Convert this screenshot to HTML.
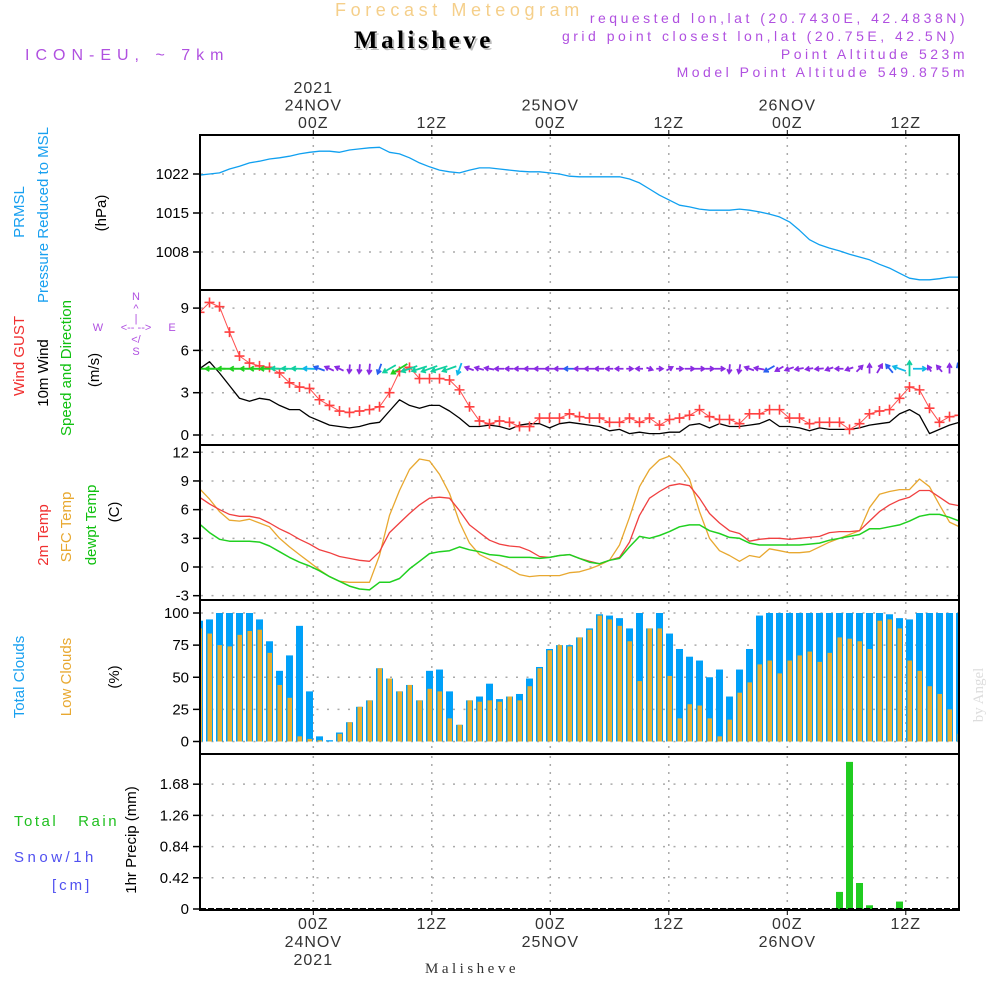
<!DOCTYPE html>
<html><head><meta charset="utf-8"><style>
html,body{margin:0;padding:0;background:#fff;}
svg{display:block;font-family:"Liberation Sans",sans-serif;}
</style></head><body>
<svg id="chart" width="1000" height="1000" viewBox="0 0 1000 1000" xmlns="http://www.w3.org/2000/svg">
<defs>
<clipPath id="plotclip"><rect x="201" y="136" width="757" height="773"/></clipPath>
</defs>
<text x="335" y="16" font-size="18" fill="#f5cf8a" letter-spacing="4.6">Forecast Meteogram</text>
<text x="354" y="48" font-size="25" font-weight="bold" font-family="Liberation Serif,serif" fill="#bbb" letter-spacing="3.5" transform="translate(2,2)">Malisheve</text>
<text x="354" y="48" font-size="25" font-weight="bold" font-family="Liberation Serif,serif" fill="#000" letter-spacing="3.5">Malisheve</text>
<g font-size="14" fill="#b050e0" text-anchor="end" letter-spacing="3.5">
<text x="968" y="23">requested lon,lat (20.7430E, 42.4838N)</text>
<text x="958" y="41">grid point closest lon,lat (20.75E, 42.5N)</text>
<text x="968" y="59">Point Altitude 523m</text>
<text x="968" y="77">Model Point Altitude 549.875m</text>
</g>
<text x="25" y="60" font-size="16" fill="#b050e0" letter-spacing="6">ICON-EU, ~ 7km</text>

<g font-size="15" text-anchor="middle">
<text transform="translate(24,212) rotate(-90)" fill="#18a0f0">PRMSL</text>
<text transform="translate(48,215) rotate(-90)" fill="#18a0f0">Pressure Reduced to MSL</text>
<text transform="translate(106,213) rotate(-90)" fill="#000">(hPa)</text>
<text transform="translate(24,356) rotate(-90)" fill="#f03030">Wind GUST</text>
<text transform="translate(48,373) rotate(-90)" fill="#000">10m Wind</text>
<text transform="translate(71,368) rotate(-90)" fill="#10c010">Speed and Direction</text>
<text transform="translate(99,370) rotate(-90)" fill="#000">(m/s)</text>
<text transform="translate(48,535) rotate(-90)" fill="#f03030">2m Temp</text>
<text transform="translate(71,527) rotate(-90)" fill="#e8a830">SFC Temp</text>
<text transform="translate(96,525) rotate(-90)" fill="#10c010">dewpt Temp</text>
<text transform="translate(119,512) rotate(-90)" fill="#000">(C)</text>
<text transform="translate(24,677) rotate(-90)" fill="#18a0f0">Total Clouds</text>
<text transform="translate(71,677) rotate(-90)" fill="#e8a830">Low Clouds</text>
<text transform="translate(119,677) rotate(-90)" fill="#000">(%)</text>
<text transform="translate(136,840) rotate(-90)" fill="#000">1hr Precip (mm)</text>
</g>
<g font-size="15">
<text x="14" y="826" fill="#20c020" letter-spacing="2.5">Total&#160;&#160;&#160;Rain</text>
<text x="14" y="862" fill="#5050f0" letter-spacing="3.5">Snow/1h</text>
<text x="52" y="890" fill="#5050f0" letter-spacing="3">[cm]</text>
</g>
<g font-size="11" fill="#b050e0" text-anchor="middle">
<text x="136" y="300">N</text><text x="136" y="312">^</text><text x="136" y="322">|</text>
<text x="98" y="331">W</text><text x="136" y="331">&lt;-- --&gt;</text><text x="172" y="331">E</text>
<text x="136" y="343">&lt;/</text><text x="136" y="355">S</text>
</g>
<text transform="translate(983,695) rotate(-90)" font-size="15" font-family="Liberation Serif,serif" fill="#ddd" text-anchor="middle">by Angel</text>
<text x="472" y="973" font-size="15" font-family="Liberation Serif,serif" fill="#333" text-anchor="middle" letter-spacing="3.5">Malisheve</text>

<g id="grid"></g>
<g id="marks" clip-path="url(#plotclip)"></g>
<g id="frame"></g>
<g id="axes"></g>
</svg>
<script>
const hoursTicks=[0,12,24,36,48,60];
const timeTop=[["2021","24NOV","00Z"],["","","12Z"],["","25NOV","00Z"],["","","12Z"],["","26NOV","00Z"],["","","12Z"]];
const timeBottom=[["00Z","24NOV","2021"],["12Z","",""],["00Z","25NOV",""],["12Z","",""],["00Z","26NOV",""],["12Z","",""]];
const pressure=[1021.8,1022.0,1022.2,1022.9,1023.4,1024.0,1024.3,1024.7,1024.9,1025.2,1025.6,1025.9,1026.1,1026.1,1025.9,1026.3,1026.5,1026.7,1026.8,1025.9,1025.6,1024.9,1024.0,1023.3,1022.7,1022.4,1022.2,1022.7,1023.1,1023.1,1022.9,1022.7,1022.5,1022.4,1022.4,1022.2,1022.0,1021.6,1021.5,1021.5,1021.5,1021.5,1021.5,1021.1,1020.4,1019.3,1018.2,1017.3,1016.4,1016.1,1015.7,1015.5,1015.5,1015.5,1015.7,1015.5,1015.2,1014.8,1014.3,1013.4,1011.9,1010.2,1009.3,1008.7,1008.2,1007.6,1007.1,1006.6,1005.8,1005.1,1004.2,1003.3,1003.0,1003.0,1003.2,1003.5,1003.5];
const gust=[8.7,9.4,9.1,7.3,5.6,5.1,4.9,4.8,4.4,3.7,3.4,3.3,2.5,2.1,1.7,1.6,1.7,1.8,2.0,3.0,4.5,4.8,4.0,4.0,4.0,3.9,3.2,2.0,1.0,0.8,1.0,0.9,0.6,0.6,1.2,1.2,1.2,1.5,1.3,1.2,1.2,0.9,0.9,1.2,0.9,1.2,0.7,1.1,1.2,1.4,1.8,1.3,1.1,1.1,0.8,1.5,1.5,1.8,1.8,1.2,1.2,0.8,0.9,0.9,0.9,0.4,0.8,1.5,1.7,1.8,2.6,3.4,3.2,1.9,0.9,1.3,1.4];
const wind=[4.7,5.2,4.4,3.5,2.6,2.4,2.6,2.5,2.1,1.8,1.8,1.3,1.0,0.7,0.6,0.5,0.6,0.8,0.9,1.7,2.5,2.1,1.9,2.1,2.1,1.7,1.2,0.6,0.6,0.7,0.6,0.4,0.7,0.8,0.8,0.5,0.8,0.9,0.8,0.7,0.6,0.3,0.4,0.1,0.2,0.1,0.1,0.2,0.2,0.7,0.8,0.5,0.8,0.6,0.6,0.7,0.8,1.1,0.6,0.6,0.5,0.3,0.5,0.4,0.4,0.4,0.5,0.7,0.8,0.9,1.5,1.8,1.4,0.1,0.4,0.7,0.9];
const windDir=[180,180,180,180,180,180,180,180,182,182,182,182,200,205,205,95,95,95,110,150,148,160,162,160,162,160,110,200,195,190,180,180,180,180,180,180,180,180,180,180,180,180,180,0,180,20,0,330,0,0,0,0,0,95,100,200,190,150,150,160,170,170,175,160,180,160,315,270,300,230,200,270,0,240,230,270,250];
const t2m=[7.3,6.6,6.0,5.5,5.3,5.3,5.1,4.6,4.0,3.5,2.9,2.4,1.8,1.5,1.1,0.9,0.7,0.6,1.6,3.6,4.6,5.6,6.5,7.2,7.3,7.2,5.9,4.4,3.6,2.8,2.4,2.2,2.1,1.7,1.1,1.0,1.2,1.3,0.9,0.6,0.35,0.7,1.0,2.6,5.4,7.2,7.9,8.5,8.7,8.5,7.2,5.6,4.6,3.8,3.5,2.7,2.9,3.0,3.0,2.9,3.0,3.1,3.2,3.6,3.7,3.7,3.8,4.8,5.8,6.5,7.0,7.3,8.0,8.0,7.3,6.6,6.4];
const tsfc=[8.2,7.1,5.8,4.9,4.8,5.0,4.6,4.2,3.0,2.1,1.3,0.5,-0.3,-1.0,-1.5,-1.6,-1.6,-1.6,1.2,5.4,8.0,10.2,11.3,11.1,9.7,7.7,4.7,2.5,1.3,0.8,0.3,-0.2,-0.8,-1.0,-0.9,-0.9,-0.9,-0.6,-0.5,-0.2,0.2,0.7,2.3,5.2,8.4,10.2,11.2,11.6,10.7,9.2,5.8,3.0,1.7,1.2,0.6,1.2,1.0,1.9,1.7,1.5,1.5,1.6,2.1,2.6,3.0,3.4,3.8,6.2,7.6,7.9,8.1,8.1,9.2,8.4,6.5,4.7,4.2];
const tdew=[4.5,3.6,2.9,2.7,2.7,2.7,2.6,2.2,1.6,1.0,0.5,0.1,-0.4,-1.0,-1.5,-2.0,-2.3,-2.4,-1.6,-1.6,-1.2,-0.2,0.6,1.4,1.6,1.7,2.1,1.8,1.6,1.3,1.2,1.0,1.0,1.0,0.9,1.0,1.2,1.3,0.9,0.5,0.35,0.7,0.9,2.1,3.2,3.0,3.3,3.7,4.2,4.4,4.4,3.8,3.5,3.1,3.0,2.5,2.3,2.3,2.3,2.3,2.3,2.4,2.5,2.8,3.0,3.2,3.4,4.0,4.0,4.2,4.4,4.8,5.3,5.5,5.5,5.2,4.8];
const cloudTotal=[94,95,100,100,100,100,95,78,55,67,90,39,4,1,7,15,27,32,57,49,39,44,32,55,56,39,13,32,35,45,33,35,37,49,58,72,75,75,81,88,99,98,96,88,100,88,100,84,72,66,63,50,56,35,56,72,98,100,100,100,100,100,100,100,100,100,100,100,100,99,96,95,100,100,100,100,100];
const cloudLow=[88,84,75,74,83,86,87,69,44,34,4,2,1,0,6,15,27,32,57,49,39,44,32,41,39,18,13,32,31,32,31,35,32,43,57,71,75,74,81,87,98,95,90,78,47,88,88,51,18,29,28,18,4,17,38,46,60,63,53,63,67,70,62,69,81,80,78,72,94,95,88,63,55,43,37,25,6];
const precip=[0,0,0,0,0,0,0,0,0,0,0,0,0,0,0,0,0,0,0,0,0,0,0,0,0,0,0,0,0,0,0,0,0,0,0,0,0,0,0,0,0,0,0,0,0,0,0,0,0,0,0,0,0,0,0,0,0,0,0,0,0,0,0,0,0.23,1.98,0.35,0.05,0,0,0.1,0,0,0,0,0,0];
const pTicks=[1008,1015,1022];
const wTicks=[0,3,6,9];
const tTicks=[-3,0,3,6,9,12];
const cTicks=[0,25,50,75,100];
const rTicks=[0,0.42,0.84,1.26,1.68];

const NS="http://www.w3.org/2000/svg";
const X=i=>199.5+10*i;
const TX=h=>313.3+9.875*h;
const yP=v=>174+(1022-v)*5.571;
const yW=v=>435-v*14.1;
const yT=v=>567-v*9.56;
const yC=v=>741.5-v*1.285;
const yR=v=>909-v*74.3;
const R=959;
function mk(tag,attrs,parent){const e=document.createElementNS(NS,tag);for(const k in attrs)e.setAttribute(k,attrs[k]);parent.appendChild(e);return e;}
const grid=document.getElementById('grid'),marks=document.getElementById('marks'),frame=document.getElementById('frame'),axes=document.getElementById('axes');
const panels=[[135,290,pTicks,yP],[290,445,wTicks,yW],[445,600,tTicks,yT],[600,754,cTicks,yC],[754,910,rTicks,yR]];
panels.forEach(p=>{
  const [top,bot,ticks,fy]=p;
  ticks.forEach(t=>{
    const y=fy(t);
    const g=mk('line',{x1:201,x2:R,y1:y,y2:y,stroke:'#aaa','stroke-width':1.5,'stroke-dasharray':'2 8.5'},grid);
    
    
    const tk=mk('line',{x1:193,x2:200,y1:y,y2:y,stroke:'#000','stroke-width':1.5},axes);
    
    
    const tx=mk('text',{x:189,y:y+5,'font-size':15,'text-anchor':'end',fill:'#000'},axes);
    tx.textContent=String(t);
    
    
  });
  hoursTicks.forEach(h=>{
    const g=mk('line',{x1:TX(h),x2:TX(h),y1:top+2,y2:bot-1,stroke:'#aaa','stroke-width':1.5,'stroke-dasharray':'2 6'},grid);
    
    
  });
});
const fr=mk('rect',{x:200,y:135,width:R-200,height:775,fill:'none',stroke:'#000','stroke-width':2},frame);


[290,445,600,754].forEach(y=>{const s=mk('line',{x1:200,x2:R,y1:y,y2:y,stroke:'#000','stroke-width':2},frame);

});
const bl=mk('line',{x1:200,x2:R,y1:909,y2:909,stroke:'#000','stroke-width':2,'stroke-dasharray':'6 2'},frame);


hoursTicks.forEach((h,k)=>{
  const x=TX(h);
  const a=mk('line',{x1:x,x2:x,y1:130,y2:135,stroke:'#000','stroke-width':1},axes);
  
  
  const b=mk('line',{x1:x,x2:x,y1:910,y2:915,stroke:'#000','stroke-width':1},axes);
  
  
  timeTop[k].forEach((s,j)=>{ if(!s)return;
    const t=mk('text',{x:x,y:93+j*17.5,'font-size':16,'text-anchor':'middle',fill:'#333','letter-spacing':1},axes);
    t.textContent=s;
    
    });
  timeBottom[k].forEach((s,j)=>{ if(!s)return;
    const t=mk('text',{x:x,y:929+j*18,'font-size':16,'text-anchor':'middle',fill:'#333','letter-spacing':1},axes);
    t.textContent=s;
    
    });
});
function line(arr,fy,color,w,name){
  const d=arr.map((v,i)=>(i?'L':'M')+X(i).toFixed(1)+','+fy(v).toFixed(1)).join('');
  const p=mk('path',{d:d,fill:'none',stroke:color,'stroke-width':w,'stroke-linejoin':'round'},marks);
  
  
}
cloudTotal.forEach((v,i)=>{
  const r=mk('rect',{x:X(i)-3.5,y:yC(v),width:7,height:yC(0)-yC(v),fill:'#00a0f8'},marks);
  
  
});
cloudLow.forEach((v,i)=>{
  const r=mk('rect',{x:X(i)-2,y:yC(v),width:4.5,height:yC(0)-yC(v),fill:'#e8ae30'},marks);
  
  
});
precip.forEach((v,i)=>{ if(v<=0)return;
  const r=mk('rect',{x:X(i)-3.5,y:yR(v),width:7,height:yR(0)-yR(v),fill:'#20cc20'},marks);
  
  
});
line(pressure,yP,'#10a0f0',1.3,'pressure-line');
line(tsfc,yT,'#e8a830',1.3,'sfc-temp-line');
line(t2m,yT,'#f04040',1.3,'temp-2m-line');
line(tdew,yT,'#20d020',1.5,'dewpoint-line');
line(wind,yW,'#000',1.3,'wind-10m-line');
line(gust,yW,'#ff5050',1,'gust-line');
gust.forEach((v,i)=>{
  const x=X(i),y=yW(v);
  const c=mk('path',{d:`M${x-5},${y}H${x+5}M${x},${y-5}V${y+5}`,stroke:'#ff4040','stroke-width':1.6},marks);
  
  
});
function wcol(s){return s>=2.2?'#20d020':s>=1.7?'#10d0a0':s>=1.2?'#10b8e8':s>=0.9?'#2860f0':'#8a2be2';}
windDir.forEach((a,i)=>{
  const s=wind[i],len=6+s*5,cx=X(i),cy=yW(4.7);
  const r=a*Math.PI/180,dx=Math.cos(r),dy=Math.sin(r);
  const x1=cx-dx*len/2,y1=cy-dy*len/2,x2=cx+dx*len/2,y2=cy+dy*len/2;
  const h=4.5,ha=0.55;
  const hx1=x2-h*Math.cos(r-ha),hy1=y2-h*Math.sin(r-ha),hx2=x2-h*Math.cos(r+ha),hy2=y2-h*Math.sin(r+ha);
  const p=mk('path',{d:`M${x1},${y1}L${x2},${y2}M${hx1},${hy1}L${x2},${y2}L${hx2},${hy2}`,stroke:wcol(s),'stroke-width':1.8,fill:'none'},marks);
  
  
});
</script>
</body></html>
